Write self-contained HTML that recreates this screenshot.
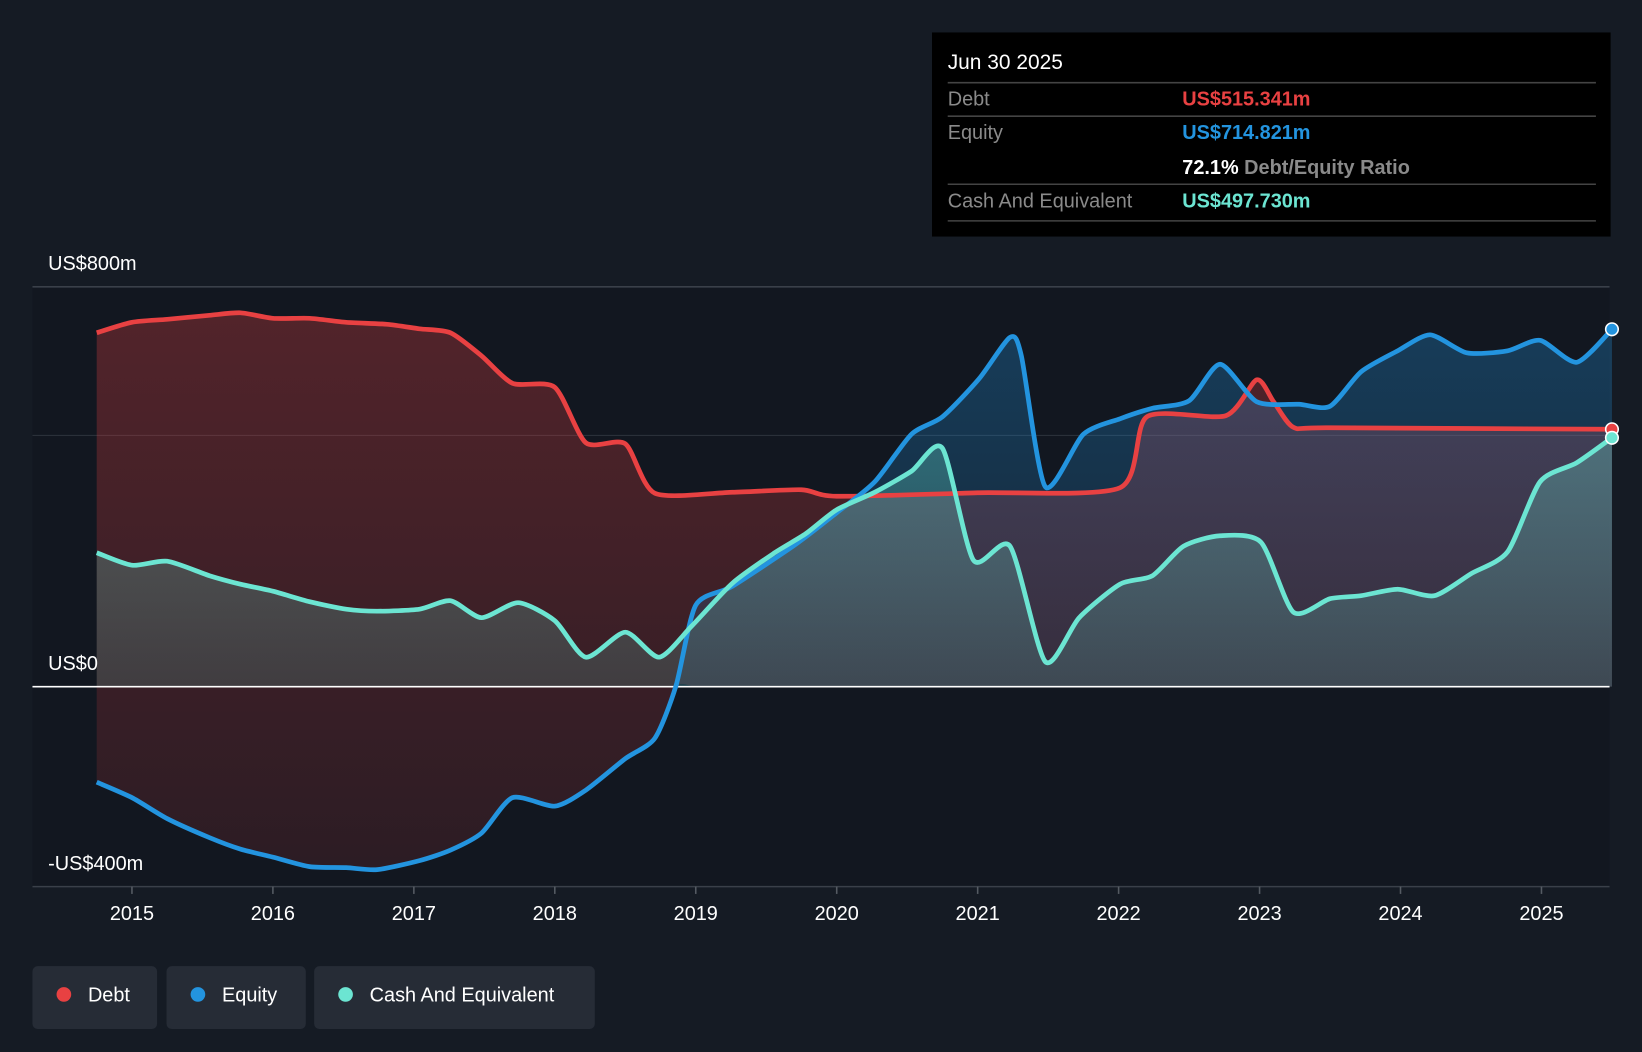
<!DOCTYPE html>
<html><head><meta charset="utf-8"><style>
html,body{margin:0;padding:0;background:#151b24;}
svg{display:block;font-family:"Liberation Sans",sans-serif;}
</style></head><body>
<svg id="chart" width="1642" height="1052" viewBox="0 0 1568 1005" preserveAspectRatio="none" xmlns="http://www.w3.org/2000/svg">
<defs>
<linearGradient id="gDebt" x1="0" y1="0" x2="0" y2="1"><stop offset="0" stop-color="#e84142" stop-opacity="0.3"/><stop offset="1" stop-color="#e84142" stop-opacity="0.12"/></linearGradient>
<linearGradient id="gEq" x1="0" y1="0" x2="0" y2="1"><stop offset="0" stop-color="#2394df" stop-opacity="0.3"/><stop offset="1" stop-color="#2394df" stop-opacity="0.12"/></linearGradient>
<linearGradient id="gCash" x1="0" y1="0" x2="0" y2="1"><stop offset="0" stop-color="#6ce5d2" stop-opacity="0.3"/><stop offset="1" stop-color="#6ce5d2" stop-opacity="0.15"/></linearGradient>
</defs>
<rect x="0" y="0" width="1568" height="1005" fill="#151b24"/>
<g id="grid"></g>
<g id="areas"></g>
<g id="lines"></g>
<g id="axis"></g>
<g>
<rect x="890" y="31" width="648" height="195" fill="#000"/>
<text x="905" y="66" fill="#fff" font-size="20">Jun 30 2025</text>
<line x1="905" y1="79" x2="1524" y2="79" stroke="#444" stroke-width="1.5"/>
<text x="905" y="101" fill="#8a8a8a" font-size="19">Debt</text>
<text x="1129" y="101" fill="#e84142" font-size="19" font-weight="bold">US$515.341m</text>
<line x1="905" y1="111" x2="1524" y2="111" stroke="#444" stroke-width="1.5"/>
<text x="905" y="133" fill="#8a8a8a" font-size="19">Equity</text>
<text x="1129" y="133" fill="#2394df" font-size="19" font-weight="bold">US$714.821m</text>
<text x="1129" y="166" fill="#fff" font-size="19" font-weight="bold">72.1% <tspan fill="#8a8a8a">Debt/Equity Ratio</tspan></text>
<line x1="905" y1="176" x2="1524" y2="176" stroke="#444" stroke-width="1.5"/>
<text x="905" y="198" fill="#8a8a8a" font-size="19">Cash And Equivalent</text>
<text x="1129" y="198" fill="#6ce5d2" font-size="19" font-weight="bold">US$497.730m</text>
<line x1="905" y1="211" x2="1524" y2="211" stroke="#444" stroke-width="1.5"/>
</g>
<g>
<g><rect x="31" y="923" width="119" height="60" rx="5" fill="#262c36"/><circle cx="61" cy="950" r="7" fill="#e84142"/><text x="84" y="957" fill="#fff" font-size="19">Debt</text></g>
<g><rect x="159" y="923" width="133" height="60" rx="5" fill="#262c36"/><circle cx="189" cy="950" r="7" fill="#2394df"/><text x="212" y="957" fill="#fff" font-size="19">Equity</text></g>
<g><rect x="300" y="923" width="268" height="60" rx="5" fill="#262c36"/><circle cx="330" cy="950" r="7" fill="#6ce5d2"/><text x="353" y="957" fill="#fff" font-size="19">Cash And Equivalent</text></g>
</g>
</svg>
<script>
const debtT=[2014.75,2015.0,2015.25,2015.55,2015.77,2016.0,2016.26,2016.52,2016.81,2017.04,2017.26,2017.48,2017.7,2018.0,2018.22,2018.5,2018.71,2019.26,2019.75,2020.0,2021.0,2022.01,2022.2,2022.76,2022.98,2023.1,2023.24,2023.5,2025.5];
const debtV=[708,729,735,743,748,737,737,729,725,716,708,662,607,599,488,486,387,389,394,381,388,398,540,542,614,570,519,518,515];
const eqT=[2014.75,2015.0,2015.25,2015.55,2015.77,2016.0,2016.26,2016.52,2016.74,2017.04,2017.26,2017.48,2017.7,2018.0,2018.22,2018.5,2018.71,2018.86,2019.0,2019.26,2019.71,2020.0,2020.27,2020.53,2020.75,2021.01,2021.23,2021.31,2021.48,2021.75,2022.01,2022.24,2022.5,2022.72,2022.98,2023.28,2023.5,2023.72,2023.98,2024.21,2024.47,2024.76,2024.99,2025.25,2025.5];
const eqV=[-191,-222,-264,-302,-325,-341,-360,-362,-366,-348,-327,-293,-222,-239,-207,-144,-103,2,163,201,285,348,410,505,540,616,699,662,400,505,536,557,572,645,570,565,561,630,672,704,668,672,693,649,715];
const cashT=[2014.75,2015.0,2015.25,2015.55,2015.77,2016.0,2016.26,2016.52,2016.74,2017.04,2017.26,2017.48,2017.74,2018.0,2018.22,2018.5,2018.74,2018.97,2019.26,2019.56,2019.78,2020.0,2020.27,2020.53,2020.75,2020.97,2021.23,2021.48,2021.72,2022.01,2022.24,2022.46,2022.72,2023.01,2023.24,2023.5,2023.72,2023.98,2024.24,2024.5,2024.76,2024.99,2025.25,2025.5];
const cashV=[268,243,251,222,205,191,170,155,151,155,172,138,168,132,59,109,59,121,207,268,306,354,389,431,477,253,281,50,138,205,222,281,302,289,149,176,182,195,182,226,270,410,448,498];
const yearTicks=[2015,2016,2017,2018,2019,2020,2021,2022,2023,2024,2025];
const yTicks=[800,0,-400];
const yLabels=["US$800m","US$0","-US$400m"];

const NS="http://www.w3.org/2000/svg";
function xs(t){return 126+(t-2015)*134.6;}
function ys(v){return 656-v*0.4775;}
function mk(tag,attrs,parent){const e=document.createElementNS(NS,tag);for(const k in attrs)e.setAttribute(k,attrs[k]);parent.appendChild(e);return e;}
function pts(T,V){return T.map((t,i)=>[xs(t),ys(V[i])]);}
function smooth(p){let d="M"+p[0][0]+","+p[0][1];for(let i=0;i<p.length-1;i++){const p0=p[i-1]||p[i],p1=p[i],p2=p[i+1],p3=p[i+2]||p2;const k=0.12;const c1=[p1[0]+(p2[0]-p0[0])*k,p1[1]+(p2[1]-p0[1])*k];const c2=[p2[0]-(p3[0]-p1[0])*k,p2[1]-(p3[1]-p1[1])*k];d+="C"+c1[0]+","+c1[1]+" "+c2[0]+","+c2[1]+" "+p2[0]+","+p2[1];}return d;}
function smoothRev(p){return smooth(p.slice().reverse()).replace(/^M/,"L");}
const grid=document.getElementById('grid'),areas=document.getElementById('areas'),lines=document.getElementById('lines'),axis=document.getElementById('axis');
mk('rect',{x:31,y:274,width:1506,height:573,fill:'#121720'},grid);
mk('line',{x1:31,x2:1537,y1:ys(800),y2:ys(800),stroke:'#3a4049','stroke-width':1.5},grid);
mk('line',{x1:31,x2:1537,y1:416,y2:416,stroke:'#2a3039','stroke-width':1},grid);
mk('line',{x1:31,x2:1537,y1:847,y2:847,stroke:'#3a4049','stroke-width':1.5},grid);

const dp=pts(debtT,debtV),ep=pts(eqT,eqV),cp=pts(cashT,cashV);
const z=ys(0);
const lower=ep.map(p=>[p[0],Math.max(p[1],z)]);
let a;
a=mk('path',{d:smooth(dp)+smoothRev(lower)+"Z",fill:'url(#gDebt)'},areas);

const epPos=ep.filter(p=>p[1]<=z+1);
a=mk('path',{d:smooth(epPos)+"L"+epPos[epPos.length-1][0]+","+z+"L"+epPos[0][0]+","+z+"Z",fill:'url(#gEq)'},areas);

a=mk('path',{d:smooth(cp)+"L"+cp[cp.length-1][0]+","+z+"L"+cp[0][0]+","+z+"Z",fill:'url(#gCash)'},areas);


mk('line',{x1:31,x2:1537,y1:z,y2:z,stroke:'#fff','stroke-width':1.5},lines);
const series=[[dp,'#e84142','debt-line'],[ep,'#2394df','equity-line'],[cp,'#6ce5d2','cash-line']];
series.forEach(s=>{const l=mk('path',{d:smooth(s[0]),fill:'none',stroke:s[1],'stroke-width':4.5,'stroke-linejoin':'round'},lines);

});
series.forEach(s=>{const p=s[0][s[0].length-1];const c=mk('circle',{cx:p[0],cy:p[1],r:6,fill:s[1],stroke:'#fff','stroke-width':1.5},lines);

});

yearTicks.forEach(y=>{mk('line',{x1:xs(y),x2:xs(y),y1:847,y2:854,stroke:'#555b63','stroke-width':1.5},axis);
const t=mk('text',{x:xs(y),y:879,fill:'#fff','font-size':19,'text-anchor':'middle'},axis);t.textContent=y;

});
yTicks.forEach((v,i)=>{const t=mk('text',{x:46,y:ys(v)-16,fill:'#fff','font-size':19},axis);t.textContent=yLabels[i];

});
</script>
</body></html>
